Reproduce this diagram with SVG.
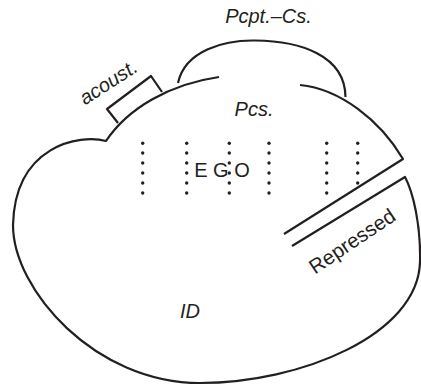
<svg xmlns="http://www.w3.org/2000/svg" width="421" height="386" viewBox="0 0 421 386">
<style>
.ln{fill:none;stroke:#231f20;stroke-width:2.2;stroke-linejoin:round;stroke-linecap:butt}
.t{font-family:"Liberation Sans",Arial,sans-serif;font-size:20px;fill:#231f20}
.i{font-style:italic}
.d{fill:#231f20}
</style>
<rect width="421" height="386" fill="#ffffff"/>
<g id="outline">
<path class="ln" d="M 292,246 L 405,177 C 413,192 421,225 420,262 C 418,335 300,383 200,383 C 95,383 13,290 13,225 C 15,145 80,134 106,141 C 128,108 170,84 219,77"/>
<path class="ln" d="M 300,85 C 340,89 380,120 403,159 L 284,234"/>
</g>
<g id="pcpt-cs">
<path class="ln" d="M 178,83 C 185,50 225,40 255,40.5 C 300,41 345,55 345.5,97"/>
<text class="t i" x="268.5" y="23" text-anchor="middle">Pcpt.–Cs.</text>
</g>
<g id="acoust">
<polyline class="ln" points="118,123 107,109 151,76 162,92"/>
<text class="t i" x="0" y="0" text-anchor="middle" transform="translate(112,88) rotate(-33)">acoust.</text>
</g>
<g id="pcs">
<text class="t i" x="254" y="116" text-anchor="middle">Pcs.</text>
</g>
<g id="ego">
<g class="d">
<circle cx="142.7" cy="143.3" r="1.7"/><circle cx="142.7" cy="153" r="1.7"/><circle cx="142.7" cy="163" r="1.7"/><circle cx="142.7" cy="173" r="1.7"/><circle cx="142.7" cy="183" r="1.7"/><circle cx="142.7" cy="193" r="1.7"/>
<circle cx="186.7" cy="143.3" r="1.7"/><circle cx="186.7" cy="153" r="1.7"/><circle cx="186.7" cy="163" r="1.7"/><circle cx="186.7" cy="173" r="1.7"/><circle cx="186.7" cy="183" r="1.7"/><circle cx="186.7" cy="193" r="1.7"/>
<circle cx="229.3" cy="143.3" r="1.7"/><circle cx="229.3" cy="153" r="1.7"/><circle cx="229.3" cy="163" r="1.7"/><circle cx="229.3" cy="173" r="1.7"/><circle cx="229.3" cy="183" r="1.7"/><circle cx="229.3" cy="193" r="1.7"/>
<circle cx="269" cy="143.3" r="1.7"/><circle cx="269" cy="153" r="1.7"/><circle cx="269" cy="163" r="1.7"/><circle cx="269" cy="173" r="1.7"/><circle cx="269" cy="183" r="1.7"/><circle cx="269" cy="193" r="1.7"/>
<circle cx="326.7" cy="143.3" r="1.7"/><circle cx="326.7" cy="153" r="1.7"/><circle cx="326.7" cy="163" r="1.7"/><circle cx="326.7" cy="173" r="1.7"/><circle cx="326.7" cy="183" r="1.7"/><circle cx="326.7" cy="193" r="1.7"/>
<circle cx="357.7" cy="143.3" r="1.7"/><circle cx="357.7" cy="153" r="1.7"/><circle cx="357.7" cy="163" r="1.7"/><circle cx="357.7" cy="173" r="1.7"/><circle cx="357.7" cy="183" r="1.7"/>
</g>
<text class="t" x="222" y="177.3" text-anchor="middle">E G O</text>
</g>
<g id="repressed">
<text class="t" x="0" y="0" text-anchor="middle" transform="translate(356,247) rotate(-34)" style="font-size:20.5px">Repressed</text>
</g>
<g id="id">
<text class="t i" x="190" y="318.3" text-anchor="middle">ID</text>
</g>
<g id="connectors"/>
</svg>
